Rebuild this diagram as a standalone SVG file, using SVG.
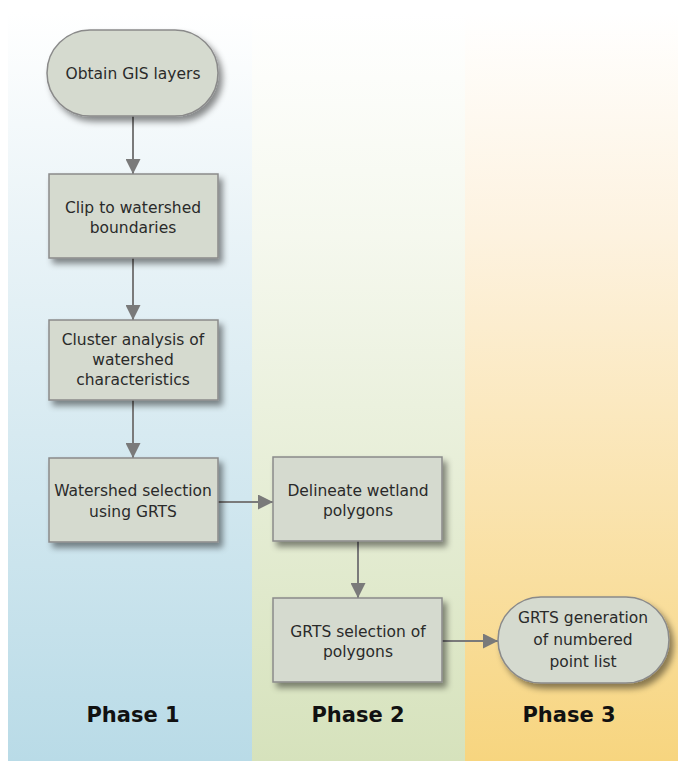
<svg xmlns="http://www.w3.org/2000/svg" width="678" height="761" viewBox="0 0 678 761">
<defs>
<linearGradient id="g1" x1="0" y1="0" x2="0" y2="1">
<stop offset="0" stop-color="#ffffff"/>
<stop offset="0.3" stop-color="#e9f3f7"/>
<stop offset="1" stop-color="#b9dbe7"/>
</linearGradient>
<linearGradient id="g2" x1="0" y1="0" x2="0" y2="1">
<stop offset="0" stop-color="#ffffff"/>
<stop offset="0.3" stop-color="#f5f8ee"/>
<stop offset="1" stop-color="#d6e2bc"/>
</linearGradient>
<linearGradient id="g3" x1="0" y1="0" x2="0" y2="1">
<stop offset="0" stop-color="#ffffff"/>
<stop offset="0.3" stop-color="#fdf2df"/>
<stop offset="1" stop-color="#f7d57f"/>
</linearGradient>
<filter id="sh" x="-20%" y="-20%" width="150%" height="150%">
<feDropShadow dx="4" dy="5" stdDeviation="3" flood-color="#000" flood-opacity="0.45"/>
</filter>
<marker id="ah" viewBox="0 0 10 10" refX="10" refY="5" markerWidth="15" markerHeight="15" markerUnits="userSpaceOnUse" orient="auto">
<path d="M0,0 L10,5 L0,10 z" fill="#7a7a7a"/>
</marker>
<style>
.node{fill:#d5dacf;stroke:#8a8a8a;stroke-width:1.5;filter:url(#sh)}
.t{font-family:"DejaVu Sans",Verdana,sans-serif;font-size:15.5px;fill:#2a2a2a;text-anchor:middle}
.ph{font-family:"DejaVu Sans",Verdana,sans-serif;font-size:21px;font-weight:bold;fill:#111;text-anchor:middle}
.c{stroke:#7a7a7a;stroke-width:2;fill:none;marker-end:url(#ah)}
</style>
</defs>
<rect x="0" y="0" width="678" height="761" fill="#ffffff"/>
<rect x="8" y="12" width="244" height="749" fill="url(#g1)"/>
<rect x="252" y="12" width="213" height="749" fill="url(#g2)"/>
<rect x="465" y="12" width="213" height="749" fill="url(#g3)"/>

<g id="connectors">
<line class="c" x1="133" y1="116" x2="133" y2="174"/>
<line class="c" x1="133" y1="258" x2="133" y2="320"/>
<line class="c" x1="133" y1="400" x2="133" y2="458"/>
<line class="c" x1="218" y1="502" x2="273" y2="502"/>
<line class="c" x1="358" y1="541" x2="358" y2="598"/>
<line class="c" x1="442" y1="641" x2="498" y2="641"/>
</g>

<g id="n1">
<rect class="node" x="47" y="30" width="171" height="86" rx="43"/>
<text class="t" x="133" y="79">Obtain GIS layers</text>
</g>
<g id="n2">
<rect class="node" x="49" y="174" width="169" height="84"/>
<text class="t" x="133" y="213">Clip to watershed</text>
<text class="t" x="133" y="233">boundaries</text>
</g>
<g id="n3">
<rect class="node" x="49" y="320" width="169" height="80"/>
<text class="t" x="133" y="345">Cluster analysis of</text>
<text class="t" x="133" y="365">watershed</text>
<text class="t" x="133" y="385">characteristics</text>
</g>
<g id="n4">
<rect class="node" x="49" y="458" width="169" height="84"/>
<text class="t" x="133" y="496">Watershed selection</text>
<text class="t" x="133" y="517">using GRTS</text>
</g>
<g id="n5">
<rect class="node" x="273" y="457" width="169" height="84"/>
<text class="t" x="358" y="496">Delineate wetland</text>
<text class="t" x="358" y="516">polygons</text>
</g>
<g id="n6">
<rect class="node" x="273" y="598" width="169" height="84"/>
<text class="t" x="358" y="637">GRTS selection of</text>
<text class="t" x="358" y="657">polygons</text>
</g>
<g id="n7">
<rect class="node" x="498" y="597" width="171" height="86" rx="43"/>
<text class="t" x="583" y="623">GRTS generation</text>
<text class="t" x="583" y="645">of numbered</text>
<text class="t" x="583" y="667">point list</text>
</g>

<text class="ph" x="133" y="722">Phase 1</text>
<text class="ph" x="358" y="722">Phase 2</text>
<text class="ph" x="569" y="722">Phase 3</text>
</svg>
